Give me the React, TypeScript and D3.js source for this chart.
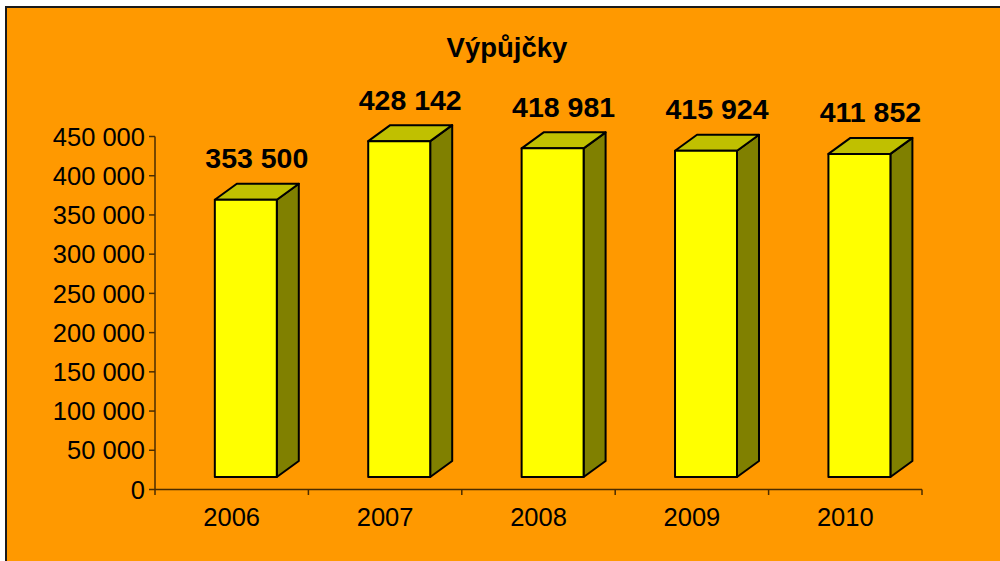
import React from "react";
import * as d3 from "d3";

const categories = ["2006", "2007", "2008", "2009", "2010"];
const values = [353500, 428142, 418981, 415924, 411852];
const yTicks = [0, 50000, 100000, 150000, 200000, 250000, 300000, 350000, 400000, 450000];
const title = "Výpůjčky";

const W = 1000;
const H = 561;
const FONT = "Arial, 'Liberation Sans', Helvetica, sans-serif";

const fmt = (v: number) => d3.format(",")(v).replace(/,/g, " ");

export default function App() {
  const x = d3.scaleBand<string>().domain(categories).range([155, 922]).padding(0);
  const y = d3.scaleLinear().domain([0, 450000]).range([489.5, 136.5]);
  const bw = x.bandwidth();
  const frontOff = bw * 0.39;
  const frontW = bw * 0.404;
  const dx = 22;
  const dy = -16;
  const lift = 12.5;
  const axisColor = "#4a2c00";

  return (
    <svg
      width={W}
      height={H}
      style={{ position: "absolute", left: 0, top: 0, display: "block" }}
      fontFamily={FONT}
    >
      <rect x={0} y={0} width={W} height={H} fill="#ffffff" />
      <rect x={6} y={7} width={W + 20} height={H + 20} fill="#FF9900" stroke="#1a1a1a" strokeWidth={2} />

      <text x={507} y={57} textAnchor="middle" fontSize={27.5} fontWeight="bold" fill="#000">
        {title}
      </text>

      {/* axes */}
      <line x1={155} x2={155} y1={136.5} y2={495} stroke={axisColor} strokeWidth={1.5} />
      {yTicks.map((t) => (
        <g key={t}>
          <line x1={149} x2={155} y1={y(t)} y2={y(t)} stroke={axisColor} strokeWidth={1.5} />
          <text x={145} y={y(t)} dy="0.36em" textAnchor="end" fontSize={25.5} fill="#000">
            {fmt(t)}
          </text>
        </g>
      ))}
      <line x1={155} x2={922} y1={489.5} y2={489.5} stroke={axisColor} strokeWidth={1.5} />
      {categories.map((c) => (
        <line key={"t" + c} x1={(x(c) as number) + bw} x2={(x(c) as number) + bw} y1={489.5} y2={495} stroke={axisColor} strokeWidth={1.5} />
      ))}
      {categories.map((c) => (
        <text key={"l" + c} x={(x(c) as number) + bw / 2} y={526} textAnchor="middle" fontSize={25.5} fill="#000">
          {c}
        </text>
      ))}

      {/* bars */}
      {categories.map((c, i) => {
        const x0 = (x(c) as number) + frontOff;
        const x1 = x0 + frontW;
        const yb = y(0) - lift;
        const yt = y(values[i]) - lift;
        const top = `M${x0},${yt} L${x0 + dx},${yt + dy} L${x1 + dx},${yt + dy} L${x1},${yt} Z`;
        const side = `M${x1},${yt} L${x1 + dx},${yt + dy} L${x1 + dx},${yb + dy} L${x1},${yb} Z`;
        return (
          <g key={"b" + c} stroke="#000" strokeWidth={2} strokeLinejoin="round">
            <path d={side} fill="#808000" />
            <path d={top} fill="#C0C000" />
            <rect x={x0} y={yt} width={frontW} height={yb - yt} fill="#FFFF00" />
            <text
              x={x0 + (frontW + dx) / 2}
              y={yt + dy - 15.5}
              textAnchor="middle"
              fontSize={28.5}
              fontWeight="bold"
              fill="#000"
              stroke="none"
            >
              {fmt(values[i])}
            </text>
          </g>
        );
      })}
    </svg>
  );
}
